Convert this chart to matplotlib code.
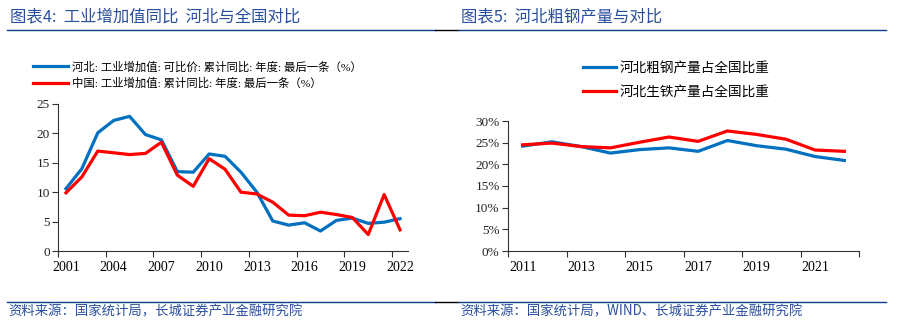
import matplotlib.pyplot as plt
from matplotlib.lines import Line2D

plt.rcParams['font.family'] = ['Liberation Serif', 'Noto Sans CJK SC', 'DejaVu Sans']

# industrial value-added growth, % (left chart)
years_iva = list(range(2001, 2023))
hebei_iva = [10.6, 14.0, 20.1, 22.2, 22.9, 19.8, 18.9, 13.5, 13.4, 16.5, 16.1,
             13.4, 10.0, 5.1, 4.4, 4.8, 3.4, 5.2, 5.6, 4.7, 4.9, 5.5]
china_iva = [9.9, 12.6, 17.0, 16.7, 16.4, 16.6, 18.5, 12.9, 11.0, 15.7, 13.9,
             10.0, 9.7, 8.3, 6.1, 6.0, 6.6, 6.2, 5.7, 2.8, 9.6, 3.6]
label_hebei_iva = '河北: 工业增加值: 可比价: 累计同比: 年度: 最后一条（%）'
label_china_iva = '中国: 工业增加值: 累计同比: 年度: 最后一条（%）'

# Hebei share of national steel / pig iron output, % (right chart)
years_steel = list(range(2011, 2023))
steel_share = [24.2, 25.2, 24.1, 22.6, 23.4, 23.8, 23.0, 25.5, 24.3, 23.5, 21.8, 20.9]
iron_share = [24.5, 24.9, 24.1, 23.8, 25.1, 26.3, 25.3, 27.7, 26.9, 25.8, 23.3, 23.0]
label_steel = '河北粗钢产量占全国比重'
label_iron = '河北生铁产量占全国比重'

title_left = '图表4:  工业增加值同比  河北与全国对比'
title_right = '图表5:  河北粗钢产量与对比'
source_left = '资料来源：国家统计局，长城证券产业金融研究院'
source_right = '资料来源：国家统计局，WIND、长城证券产业金融研究院'

BLUE = '#0070C0'
RED = '#FF0000'
NAVY = '#0B3F8C'
TEXT_BLUE = '#2A4F9E'
CJK = ['Noto Sans CJK SC', 'DejaVu Sans']

W, H = 911, 322
fig = plt.figure(figsize=(W / 100, H / 100), dpi=100)


def px(x, y):
    return x / W, 1 - y / H


def style_axes(ax):
    for s in ('top', 'right'):
        ax.spines[s].set_visible(False)
    for s in ('left', 'bottom'):
        ax.spines[s].set_color('#333333')
        ax.spines[s].set_linewidth(0.8)
    ax.tick_params(axis='both', direction='out', length=4, width=0.8,
                   color='#333333', labelsize=9.5, labelcolor='#222222')
    ax.tick_params(axis='x', which='minor', length=0, pad=7)
    ax.tick_params(axis='x', which='major', labelbottom=False)
    ax.tick_params(axis='y', pad=2)


# left chart
ax1 = fig.add_axes([58 / W, 1 - 251 / H, 350 / W, 147 / H])
x1 = range(len(years_iva))
ax1.plot(x1, hebei_iva, color=BLUE, lw=2.3, solid_joinstyle='round')
ax1.plot(x1, china_iva, color=RED, lw=2.3, solid_joinstyle='round')
ax1.set_xlim(-0.5, len(years_iva) - 0.5)
ax1.set_ylim(0, 25)
ax1.set_yticks(range(0, 26, 5))
ax1.set_xticks([i - 0.5 for i in range(0, len(years_iva), 3)])
ax1.set_xticks(list(range(0, len(years_iva), 3)), minor=True)
ax1.set_xticklabels([str(years_iva[i]) for i in range(0, len(years_iva), 3)], minor=True)
style_axes(ax1)

# right chart
ax2 = fig.add_axes([508 / W, 1 - 251 / H, 351 / W, 130 / H])
x2 = range(len(years_steel))
ax2.plot(x2, steel_share, color=BLUE, lw=2.3, solid_joinstyle='round')
ax2.plot(x2, iron_share, color=RED, lw=2.3, solid_joinstyle='round')
ax2.set_xlim(-0.5, len(years_steel) - 0.5)
ax2.set_ylim(0, 30)
ax2.set_yticks(range(0, 31, 5))
ax2.set_yticklabels([f'{v}%' for v in range(0, 31, 5)])
ax2.set_xticks([i - 0.5 for i in range(0, len(years_steel) + 1, 2)])
ax2.set_xticks(list(range(0, len(years_steel), 2)), minor=True)
ax2.set_xticklabels([str(years_steel[i]) for i in range(0, len(years_steel), 2)], minor=True)
style_axes(ax2)

# legends
h_blue = Line2D([], [], color=BLUE, lw=2.3)
h_red = Line2D([], [], color=RED, lw=2.3)
fig.legend([h_blue, h_red], [label_hebei_iva, label_china_iva],
           loc='upper left', bbox_to_anchor=px(33, 61), frameon=False,
           borderpad=0, borderaxespad=0, handlelength=3.1, handletextpad=0.3,
           labelspacing=0.45, prop={'family': ['Liberation Serif', 'Noto Sans CJK SC'], 'size': 8.2})
fig.legend([h_blue, h_red], [label_steel, label_iron],
           loc='upper left', bbox_to_anchor=px(583, 61), frameon=False,
           borderpad=0, borderaxespad=0, handlelength=2.45, handletextpad=0.25,
           labelspacing=0.75, prop={'family': CJK, 'size': 9.8})

# titles, rules and sources
fig.text(*px(10, 17), title_left, family=CJK, fontsize=11.8, color=TEXT_BLUE, va='center')
fig.text(*px(461, 17), title_right, family=CJK, fontsize=11.8, color=TEXT_BLUE, va='center')
fig.text(*px(8, 311), source_left, family=CJK, fontsize=9.6, color=TEXT_BLUE, va='center')
fig.text(*px(460, 311), source_right, family=CJK, fontsize=9.6, color=TEXT_BLUE, va='center')

for y in (30, 302):
    fig.add_artist(Line2D([7 / W, 435 / W], [1 - y / H] * 2, color=NAVY, lw=1.0))
    fig.add_artist(Line2D([435 / W, 458 / W], [1 - y / H] * 2, color='black', lw=1.0))
    fig.add_artist(Line2D([458 / W, 886 / W], [1 - y / H] * 2, color=NAVY, lw=1.0))

fig.savefig('out.png', dpi=100)
